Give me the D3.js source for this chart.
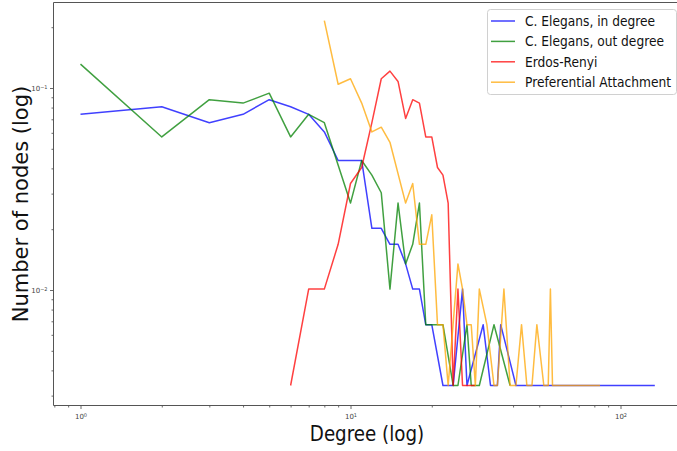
<!DOCTYPE html>
<html lang="en">
<head>
    <meta charset="UTF-8">
    <title>Degree distribution</title>
    <script src="https://cdn.jsdelivr.net/npm/d3@7"></script>
    <style>
        body {
            margin: 0;
            background: #fff;
        }
        text {
            font-family: "DejaVu Sans", sans-serif;
        }
    </style>
</head>
<body>
<svg id="viz" width="677" height="451"></svg>
<script>
    // number of nodes, counts are divided by this to get a fraction
    var nodeTotal = 297;

    var inDegree = [1, 2, 3, 4, 5, 6, 7, 8, 9, 10, 11, 12, 13, 14, 15, 16, 17, 18, 19, 20, 22, 24, 26, 27, 31, 33, 35, 36, 41, 134];
    var inCount  = [22, 24, 20, 22, 26, 24, 22, 18, 13, 13, 13, 6, 6, 5, 5, 4, 3, 3, 2, 2, 1, 1, 3, 1, 2, 1, 1, 2, 1, 1];

    var outDegree = [1, 2, 3, 4, 5, 6, 7, 8, 10, 11, 12, 13, 14, 15, 16, 17, 18, 19, 20, 22, 24, 25, 27, 28, 30, 34, 39];
    var outCount  = [39, 17, 26, 25, 28, 17, 22, 20, 8, 13, 11, 9, 3, 8, 4, 5, 8, 2, 2, 2, 1, 1, 2, 1, 1, 2, 1];

    var erDegree = [6, 7, 8, 9, 10, 11, 12, 13, 14, 15, 16, 17, 18, 19, 20, 21, 22, 23, 24, 25, 26, 29];
    var erCount  = [1, 3, 3, 5, 10, 12, 20, 33, 36, 32, 21, 26, 25, 17, 17, 12, 11, 8, 1, 3, 1, 1];

    var paDegree = [8, 9, 10, 11, 12, 13, 14, 16, 17, 18, 19, 20, 21, 22, 23, 25, 26, 27, 28, 29, 30, 32, 34, 35, 37, 39, 41, 43, 45, 47, 49, 52, 54, 55, 56, 84];
    var paCount  = [64, 31, 33, 25, 18, 19, 16, 8, 10, 5, 5, 7, 2, 2, 1, 4, 3, 2, 2, 1, 3, 2, 1, 1, 3, 1, 1, 2, 1, 1, 2, 1, 1, 3, 1, 1];

    var seriesNames = ["C. Elegans, in degree", "C. Elegans, out degree", "Erdos-Renyi", "Preferential Attachment"];
    var seriesColors = ["#0000ff", "#008000", "#ff0000", "#ffa500"];

    var xMajor = [1, 10, 100];
    var xMinor = [0.8, 0.9, 2, 3, 4, 5, 6, 7, 8, 9, 20, 30, 40, 50, 60, 70, 80, 90];
    var yMajor = [0.1, 0.01];
    var yMinor = [0.003, 0.004, 0.005, 0.006, 0.007, 0.008, 0.009, 0.02, 0.03, 0.04, 0.05, 0.06, 0.07, 0.08, 0.09, 0.2];
    var tickExp = {1: "0", 10: "1", 100: "2", 0.1: "\u22121", 0.01: "\u22122"};

    var plotLeft = 53.5, plotTop = 2.5, plotBottom = 405.5, plotRight = 690;

    var svg = d3.select("#viz");

    var xScale = d3.scaleLog()
        .domain([1, 100])
        .range([80.5, 620.5]);
    var yScale = d3.scaleLog()
        .domain([0.1, 0.01])
        .range([88, 290]);

    function toPoints(deg, cnt) {
        return deg.map(function (d, i) {
            return {degree: d, frac: cnt[i] / nodeTotal};
        });
    }
    var series = [
        toPoints(inDegree, inCount),
        toPoints(outDegree, outCount),
        toPoints(erDegree, erCount),
        toPoints(paDegree, paCount)
    ];

    // axes
    var xAxisMinor = d3.axisBottom(xScale).tickValues(xMinor).tickSize(2).tickFormat("");
    var xAxisMajor = d3.axisBottom(xScale).tickValues(xMajor).tickSize(3.5).tickPadding(2)
        .tickFormat(function () { return ""; });
    var yAxisMinor = d3.axisLeft(yScale).tickValues(yMinor).tickSize(2).tickFormat("");
    var yAxisMajor = d3.axisLeft(yScale).tickValues(yMajor).tickSize(3.5).tickPadding(2)
        .tickFormat(function () { return ""; });

    svg.append("g").attr("transform", "translate(0," + plotBottom + ")").call(xAxisMinor);
    var gx = svg.append("g").attr("transform", "translate(0," + plotBottom + ")").call(xAxisMajor);
    svg.append("g").attr("transform", "translate(" + plotLeft + ",0)").call(yAxisMinor);
    var gy = svg.append("g").attr("transform", "translate(" + plotLeft + ",0)").call(yAxisMajor);
    svg.selectAll(".domain").remove();
    svg.selectAll(".tick line").attr("stroke", "#444").attr("stroke-width", 0.8);

    // 10^n labels
    gx.selectAll(".tick text")
        .attr("y", 9)
        .attr("dy", "0.71em")
        .attr("font-size", 7)
        .attr("fill", "#444")
        .each(function (d) {
            var t = d3.select(this);
            t.append("tspan").text("10");
            t.append("tspan").attr("dy", "-0.4em").attr("font-size", 5).text(tickExp[d]);
        });
    gy.selectAll(".tick text")
        .attr("x", -6)
        .attr("font-size", 7)
        .attr("fill", "#444")
        .each(function (d) {
            var t = d3.select(this);
            t.append("tspan").text("10");
            t.append("tspan").attr("dy", "-0.4em").attr("font-size", 5).text(tickExp[d]);
        });

    // spines
    svg.append("path")
        .attr("d", "M" + plotLeft + "," + plotTop + "V" + plotBottom + "H" + plotRight +
            "M" + plotLeft + "," + plotTop + "H" + plotRight)
        .attr("fill", "none")
        .attr("stroke", "#555")
        .attr("stroke-width", 1);

    // lines
    var line = d3.line()
        .x(function (d) { return xScale(d.degree); })
        .y(function (d) { return yScale(d.frac); });

    svg.append("g")
        .selectAll("path")
        .data(series)
        .enter()
        .append("path")
        .attr("d", line)
        .attr("fill", "none")
        .attr("stroke", function (d, i) { return seriesColors[i]; })
        .attr("stroke-opacity", 0.75)
        .attr("stroke-width", 1.5)
        .attr("stroke-linejoin", "round");

    // axis titles
    svg.append("text")
        .attr("transform", "translate(367,441) scale(0.87,1)")
        .attr("text-anchor", "middle")
        .attr("font-size", 21)
        .attr("fill", "#111")
        .text("Degree (log)");
    svg.append("text")
        .attr("transform", "translate(28,204) rotate(-90)")
        .attr("text-anchor", "middle")
        .attr("font-size", 21)
        .attr("fill", "#111")
        .text("Number of nodes (log)");

    // legend
    var legend = svg.append("g");
    legend.append("rect")
        .attr("x", 487.5)
        .attr("y", 9.5)
        .attr("width", 189)
        .attr("height", 85)
        .attr("rx", 3)
        .attr("fill", "#fff")
        .attr("fill-opacity", 0.8)
        .attr("stroke", "#d0d0d0");
    var rows = legend.selectAll("g.row")
        .data(seriesNames)
        .enter()
        .append("g")
        .attr("class", "row")
        .attr("transform", function (d, i) { return "translate(0," + (21 + i * 20.4) + ")"; });
    rows.append("line")
        .attr("x1", 491)
        .attr("x2", 515)
        .attr("stroke", function (d, i) { return seriesColors[i]; })
        .attr("stroke-opacity", 0.75)
        .attr("stroke-width", 1.5);
    rows.append("text")
        .attr("transform", "translate(525,0) scale(0.875,1)")
        .attr("dy", "0.35em")
        .attr("font-size", 14)
        .attr("fill", "#111")
        .text(function (d) { return d; });
</script>
</body>
</html>
